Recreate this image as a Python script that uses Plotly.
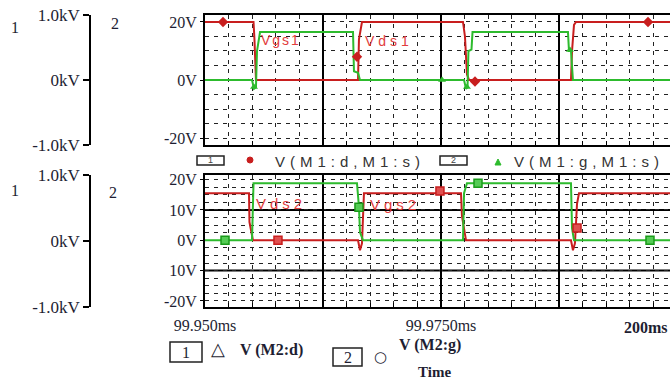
import plotly.graph_objects as go

# ---------------- data (time in ms, voltage in V) ----------------
# M1: drain-source and gate-source voltages
t_vds1 = [99.9500, 99.95514, 99.95524, 99.95540, 99.96610, 99.96621, 99.96631, 99.96663,
          99.97733, 99.97754, 99.97775, 99.97797, 99.98877, 99.98888, 99.98909, 99.98930, 99.9995]
v_vds1 = [20, 20, 14, 0, 0, 0, 14, 20, 20, 15, 2, 0, 0, 10, 19, 20, 20]

t_vgs1 = [99.9500, 99.95498, 99.95519, 99.95540, 99.95551, 99.95583, 99.96568, 99.96578,
          99.96621, 99.96642, 99.97744, 99.97765, 99.97781, 99.97791, 99.97823, 99.97834,
          99.98845, 99.98856, 99.98877, 99.98898, 99.9995]
v_vgs1 = [0, 0, -3, -2.5, 10, 16.5, 16.5, 3, 2.5, 0, 0, -3, -2.5, 10, 10.5, 16.5,
          16.5, 10, 10, 0, 0]

# M2: drain and gate voltages
t_vd2 = [99.9500, 99.95466, 99.95471, 99.95508, 99.96621, 99.96642, 99.96663, 99.96684,
         99.97712, 99.97722, 99.97754, 99.97765, 99.98877, 99.98898, 99.98919, 99.98941,
         99.98962, 99.9995]
v_vd2 = [15.5, 15.5, 6, 0, 0, -3.3, -1, 15.5, 15.5, 8, 2, 0, 0, -3.3, -1, 12, 15.5, 15.5]

t_vg2 = [99.9500, 99.95498, 99.95514, 99.96610, 99.96631, 99.96642, 99.96674, 99.97733,
         99.97744, 99.97775, 99.98877, 99.98888, 99.98909, 99.9995]
v_vg2 = [0, 0, 18.8, 18.8, 11, 2.6, 0, 0, 15.5, 18.8, 18.8, 4, 0, 0]

# trace identification markers
mk_t_vds1 = [99.95191, 99.96610, 99.97860, 99.99693]
mk_v_vds1 = [20, 8, -0.5, 20]
mk_t_vgs1 = [99.95519, 99.97511, 99.97775, 99.98866]
mk_v_vgs1 = [-2.4, 0, -2.4, 10.3]
mk_t_vd2 = [99.95773, 99.97489, 99.98941]
mk_v_vd2 = [0, 16.2, 4]
mk_t_vg2 = [99.95212, 99.96631, 99.97892, 99.99714]
mk_v_vg2 = [0, 10.9, 18.8, 0]

# axis labels
x_major = [99.9500, 99.9625, 99.9750, 99.9875]
x_text = ["99.950ms", "", "99.9750ms", ""]
y1_ticks = [-20, 0, 20]
y1_text = ["-20V", "0V", "20V"]
y2_ticks = [-20, -10, 0, 10, 20]
y2_text = ["-20V", "10V", "0V", "10V", "20V"]
kv_ticks = [-1, 0, 1]
kv_text = ["-1.0kV", "0kV", "1.0kV"]

# ---------------- layout helpers ----------------
W, H = 670, 381
RED = "#c81e1e"
GREEN = "#2dbb2d"
LBL_RED = "#e23c3c"
INK = "#1e1e32"
SERIF = "Liberation Serif"
SANS = "Liberation Sans"
GRID_DASH = "4px,5px"


def px(x):
    return x / W


def py(y):
    return 1 - y / H


top_dom = [py(145), py(15)]
bot_dom = [py(307), py(175)]
x_dom = [px(205), 1.0]
x_range = [99.9500, 99.99926]
y1_range = [-22.4, 22.4]
y2_range = [-22, 21.5]
tick_font = dict(family=SERIF, size=16, color=INK)

fig = go.Figure()

line_w = 2
fig.add_trace(go.Scatter(x=t_vds1, y=v_vds1, mode="lines", line=dict(color=RED, width=line_w),
                         xaxis="x", yaxis="y", hoverinfo="skip"))
fig.add_trace(go.Scatter(x=t_vgs1, y=v_vgs1, mode="lines", line=dict(color=GREEN, width=line_w),
                         xaxis="x", yaxis="y", hoverinfo="skip"))
fig.add_trace(go.Scatter(x=mk_t_vds1, y=mk_v_vds1, mode="markers",
                         marker=dict(symbol="diamond", size=8, color=RED),
                         xaxis="x", yaxis="y", hoverinfo="skip"))
fig.add_trace(go.Scatter(x=mk_t_vgs1, y=mk_v_vgs1, mode="markers",
                         marker=dict(symbol="triangle-up", size=7, color=GREEN),
                         xaxis="x", yaxis="y", hoverinfo="skip"))

fig.add_trace(go.Scatter(x=t_vd2, y=v_vd2, mode="lines", line=dict(color=RED, width=line_w),
                         xaxis="x2", yaxis="y2", hoverinfo="skip"))
fig.add_trace(go.Scatter(x=t_vg2, y=v_vg2, mode="lines", line=dict(color=GREEN, width=line_w),
                         xaxis="x2", yaxis="y2", hoverinfo="skip"))
fig.add_trace(go.Scatter(x=mk_t_vd2, y=mk_v_vd2, mode="markers",
                         marker=dict(symbol="square", size=8, color="#e05050",
                                     line=dict(color=RED, width=1.5)),
                         xaxis="x2", yaxis="y2", hoverinfo="skip"))
fig.add_trace(go.Scatter(x=mk_t_vg2, y=mk_v_vg2, mode="markers",
                         marker=dict(symbol="square", size=8, color="#55cc55",
                                     line=dict(color="#1a9a1a", width=1.5)),
                         xaxis="x2", yaxis="y2", hoverinfo="skip"))

# invisible placeholders so every overlay axis pair forms a subplot
for xa, ya in [("x3", "y"), ("x4", "y2"), ("x", "y3"), ("x2", "y4"), ("x", "y5"), ("x2", "y6")]:
    fig.add_trace(go.Scatter(x=[None], y=[None], mode="markers", xaxis=xa, yaxis=ya,
                             hoverinfo="skip", marker=dict(opacity=0)))


def time_axis(anchor):
    # dashed fine grid + inside ticks + frame
    return dict(
        domain=x_dom, range=x_range, anchor=anchor, automargin=False,
        tickmode="linear", tick0=99.95, dtick=0.0025, showticklabels=False,
        ticks="inside", ticklen=4, tickcolor="black",
        showgrid=True, gridcolor="#222222", gridwidth=1.2, griddash=GRID_DASH,
        zeroline=False, showline=True, mirror=True, linecolor="black", linewidth=2,
    )


def time_major(over, anchor, labels):
    # solid major divisions (and time labels on the lower pane)
    return dict(
        overlaying=over, anchor=anchor, range=x_range, side="bottom", automargin=False,
        tickmode="array", tickvals=x_major, ticktext=x_text,
        showticklabels=labels, tickfont=tick_font, ticks="", ticklabelstandoff=7,
        showgrid=True, gridcolor="black", gridwidth=2,
        zeroline=False, showline=False,
    )


def volt_axis(anchor, dom, rng, minor_dt):
    # dashed fine grid for the voltage scale
    return dict(
        domain=dom, range=rng, anchor=anchor, automargin=False,
        tickmode="linear", tick0=0, dtick=minor_dt, showticklabels=False, ticks="",
        showgrid=True, gridcolor="#222222", gridwidth=1.2, griddash=GRID_DASH,
        zeroline=False, showline=True, linecolor="black", linewidth=2,
    )


def volt_labels(over, anchor, rng, tv, tt):
    return dict(
        overlaying=over, anchor=anchor, range=rng, side="left", automargin=False,
        tickmode="array", tickvals=tv, ticktext=tt, tickfont=tick_font,
        ticks="outside", ticklen=4, tickcolor="black",
        showgrid=False, zeroline=False, showline=False,
    )


def kv_axis(over):
    return dict(
        overlaying=over, anchor="free", position=px(90), side="left", automargin=False,
        range=[-1, 1], tickmode="array", tickvals=kv_ticks, ticktext=kv_text,
        tickfont=dict(family=SERIF, size=17, color=INK),
        ticks="outside", ticklen=6, tickwidth=1.5, tickcolor="black",
        showgrid=False, zeroline=False,
        showline=True, linecolor="black", linewidth=1.5,
    )


shapes = []
# solid reference lines in the lower pane
for yv in (10, -10):
    shapes.append(dict(type="line", xref="paper", yref="y2", x0=x_dom[0], x1=1, y0=yv, y1=yv,
                       line=dict(color="black", width=2), layer="below"))
# legend boxes
for (x0, y0, x1, y1) in [(197, 156, 224, 165), (440, 156, 467, 165),
                         (170, 342, 202, 362), (333, 348, 362, 366)]:
    shapes.append(dict(type="rect", xref="paper", yref="paper",
                       x0=px(x0), x1=px(x1), y0=py(y1), y1=py(y0),
                       line=dict(color="#222222", width=1.5), fillcolor="white"))
# legend glyphs for the upper pane traces
shapes.append(dict(type="circle", xref="paper", yref="paper",
                   x0=px(247), x1=px(253), y0=py(163), y1=py(157),
                   line=dict(color=RED, width=1), fillcolor=RED))
shapes.append(dict(type="path", xref="paper", yref="paper",
                   path="M {} {} L {} {} L {} {} Z".format(px(495), py(165), px(501), py(165),
                                                         px(498), py(159)),
                   line=dict(color=GREEN, width=1), fillcolor=GREEN))


def ann(text, x, y, size=16, color=INK, family=SERIF, xanchor="center"):
    return dict(text=text, x=px(x), y=py(y), xref="paper", yref="paper",
                xanchor=xanchor, yanchor="middle", showarrow=False,
                font=dict(family=family, size=size, color=color))


def spaced(text, gap):
    return '<span style="letter-spacing:{}px">{}</span>'.format(gap, text)


annotations = [
    # pane axis numbers
    ann("1", 15, 28), ann("2", 115, 23), ann("1", 15, 190), ann("2", 113, 193),
    # trace names inside the panes
    ann(spaced("Vgs1", 2), 259, 40, size=14, color=LBL_RED, family=SANS, xanchor="left"),
    ann(spaced("Vds1", 4), 363, 41, size=14, color=LBL_RED, family=SANS, xanchor="left"),
    ann(spaced("Vds2", 4), 254, 203, size=15, color=LBL_RED, family=SANS, xanchor="left"),
    ann(spaced("Vgs2", 4), 368, 204, size=15, color=LBL_RED, family=SANS, xanchor="left"),
    # legend row between the panes
    ann("1", 210.5, 160.5, size=9, color="#444444", family=SANS),
    ann("2", 453.5, 160.5, size=9, color="#444444", family=SANS),
    ann(spaced("V(M1:d,M1:s)", 5), 350, 161, size=15, color="#333333", family=SANS),
    ann(spaced("V(M1:g,M1:s)", 5), 589, 161, size=15, color="#333333", family=SANS),
    # lower legend
    ann("1", 186, 352, size=16), ann("△", 218, 349, size=18),
    ann("<b>V (M2:d)</b>", 238, 350, size=16, xanchor="left"),
    ann("2", 347.5, 357, size=16), ann("○", 380, 357, size=15, family="DejaVu Sans"),
    ann("<b>V (M2:g)</b>", 397, 345, size=16, xanchor="left"),
    ann("<b>Time</b>", 434, 372, size=15),
    # x label past the visible end of the time axis
    ann("<b>200ms</b>", 670, 327, size=16, xanchor="right"),
]

fig.update_layout(
    width=W, height=H, margin=dict(l=0, r=0, t=0, b=0, autoexpand=False),
    paper_bgcolor="white", plot_bgcolor="white", showlegend=False,
    xaxis=time_axis("y"),
    yaxis=volt_axis("x", top_dom, y1_range, 5),
    xaxis2=time_axis("y2"),
    yaxis2=volt_axis("x2", bot_dom, y2_range, 2.5),
    xaxis3=time_major("x", "y", False),
    xaxis4=time_major("x2", "y2", True),
    yaxis3=volt_labels("y", "x", y1_range, y1_ticks, y1_text),
    yaxis4=volt_labels("y2", "x2", y2_range, y2_ticks, y2_text),
    yaxis5=kv_axis("y"),
    yaxis6=kv_axis("y2"),
    shapes=shapes, annotations=annotations,
)

fig.write_html("out.html")
